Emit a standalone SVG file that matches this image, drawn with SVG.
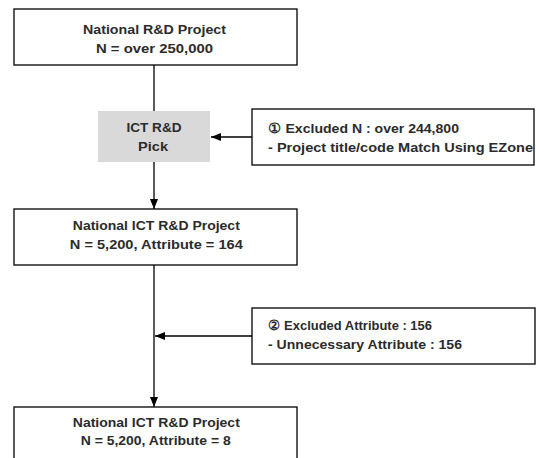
<svg xmlns="http://www.w3.org/2000/svg" width="536" height="458" viewBox="0 0 536 458">
<style>
.box{fill:#fff;stroke:#000;stroke-width:1.3}
.grey{fill:#d9d9d9;stroke:none}
.t{font-family:"Liberation Sans",Arial,sans-serif;font-weight:bold;font-size:13.5px;fill:#2b2b2b}
.c{text-anchor:middle}
.ln{stroke:#000;stroke-width:1.3;fill:none}
</style>
<defs>
<marker id="ah" markerWidth="10" markerHeight="8" refX="10" refY="4" orient="auto" markerUnits="userSpaceOnUse">
<path d="M0,0 L10,4 L0,8 Z" fill="#000"/>
</marker>
</defs>
<g id="connectors">
<line class="ln" x1="154" y1="65" x2="154" y2="111"/>
<line class="ln" x1="154" y1="162" x2="154" y2="209" marker-end="url(#ah)"/>
<line class="ln" x1="252" y1="137" x2="211" y2="137" marker-end="url(#ah)"/>
<line class="ln" x1="154" y1="265" x2="154" y2="407" marker-end="url(#ah)"/>
<line class="ln" x1="252" y1="336" x2="155" y2="336" marker-end="url(#ah)"/>
</g>
<g id="node1">
<rect class="box" x="14" y="9" width="283" height="56"/>
<text class="t c" x="154.5" y="34" textLength="143" lengthAdjust="spacingAndGlyphs">National R&amp;D Project</text>
<text class="t c" x="154.5" y="52.5" textLength="117" lengthAdjust="spacingAndGlyphs">N = over 250,000</text>
</g>
<g id="node-pick">
<rect class="grey" x="98" y="111" width="112" height="51"/>
<text class="t c" x="154" y="132" textLength="55" lengthAdjust="spacingAndGlyphs">ICT R&amp;D</text>
<text class="t c" x="153" y="151" textLength="30" lengthAdjust="spacingAndGlyphs">Pick</text>
</g>
<g id="note1">
<rect class="box" x="252" y="109" width="282" height="56"/>
<text class="t" x="268" y="133" textLength="191" lengthAdjust="spacingAndGlyphs">① Excluded N : over 244,800</text>
<text class="t" x="268" y="152" textLength="265" lengthAdjust="spacingAndGlyphs">- Project title/code Match Using EZone</text>
</g>
<g id="node2">
<rect class="box" x="14" y="209" width="283" height="56"/>
<text class="t c" x="156.3" y="230" textLength="167" lengthAdjust="spacingAndGlyphs">National ICT R&amp;D Project</text>
<text class="t c" x="156.3" y="248.5" textLength="173" lengthAdjust="spacingAndGlyphs">N = 5,200, Attribute = 164</text>
</g>
<g id="note2">
<rect class="box" x="252" y="308" width="283" height="56"/>
<text class="t" x="268" y="330" textLength="164" lengthAdjust="spacingAndGlyphs">② Excluded Attribute : 156</text>
<text class="t" x="268" y="348.5" textLength="194" lengthAdjust="spacingAndGlyphs">- Unnecessary Attribute : 156</text>
</g>
<g id="node3">
<rect class="box" x="14" y="407" width="283" height="60"/>
<text class="t c" x="156.3" y="427" textLength="167" lengthAdjust="spacingAndGlyphs">National ICT R&amp;D Project</text>
<text class="t c" x="155.7" y="445" textLength="150" lengthAdjust="spacingAndGlyphs">N = 5,200, Attribute = 8</text>
</g>
</svg>
